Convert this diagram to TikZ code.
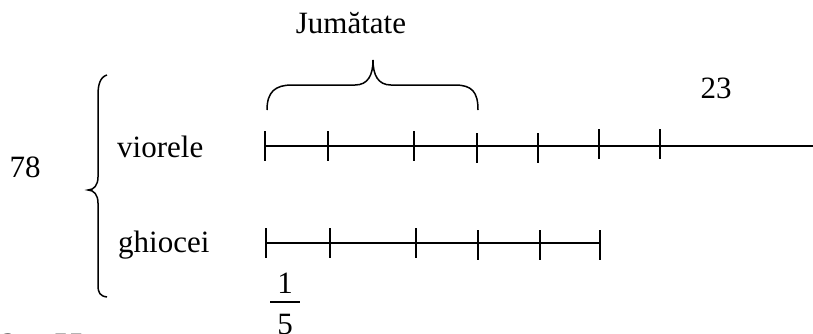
\documentclass[tikz,border=0pt]{standalone}
\usepackage{fontspec}
\setmainfont{Liberation Serif}
\usetikzlibrary{positioning}

\begin{document}
\begin{tikzpicture}[x=1pt,y=-1pt,every node/.style={font=\fontsize{31}{36}\selectfont,inner sep=0pt},seg/.style={line width=1.6pt,draw=black},brc/.style={line width=1.5pt,draw=black}]
\useasboundingbox (0,0) rectangle (813,333);
% labels
\node[anchor=base] (half) at (351,33) {Jumătate};
\node[anchor=base] (n23) at (716,98) {23};
\node[anchor=base] (n78) at (25,177) {78};
\node[anchor=base west] (vio) at (117,157) {viorele};
\node[anchor=base west] (ghi) at (118,252) {ghiocei};
\node[anchor=base] (one) at (285,293) {1};
\node[anchor=base] (five) at (285,334) {5};
\node[anchor=base west] (two) at (1,354) {2};
\node[anchor=base west] (res) at (53,354) {55};
\coordinate (barl) at (270,302);\coordinate (barr) at (300,302);
\draw[seg] (barl) -- (barr);
% viorele
\coordinate (v1) at (265,146);\coordinate (v2) at (328,146);\coordinate (v3) at (414,146);\coordinate (v4) at (477,146);
\coordinate (v5) at (538,146);\coordinate (v6) at (599,146);\coordinate (v7) at (660,146);\coordinate (vend) at (813,146);
\draw[seg] (v1) -- (vend);
\draw[seg] (v1) +(0,-15) -- +(0,15);\draw[seg] (v2) +(0,-15) -- +(0,15);\draw[seg] (v3) +(0,-15) -- +(0,15);\draw[seg] (v4) +(0,-13) -- +(0,17);
\draw[seg] (v5) +(0,-13) -- +(0,17);\draw[seg] (v6) +(0,-17) -- +(0,13);\draw[seg] (v7) +(0,-17) -- +(0,13);
% ghiocei
\coordinate (g1) at (266,243);\coordinate (g2) at (330,243);\coordinate (g3) at (416,243);\coordinate (g4) at (478,243);
\coordinate (g5) at (540,243);\coordinate (g6) at (600,243);
\draw[seg] (g1) -- (g6);
\draw[seg] (g1) +(0,-15) -- +(0,15);\draw[seg] (g2) +(0,-15) -- +(0,15);\draw[seg] (g3) +(0,-15) -- +(0,15);
\draw[seg] (g4) +(0,-13) -- +(0,17);\draw[seg] (g5) +(0,-13) -- +(0,17);\draw[seg] (g6) +(0,-13) -- +(0,17);
% braces
\draw[brc] (267,110) .. controls (267,92) and (275,85) .. (292,85) -- (355,85) .. controls (368,85) and (373,75) .. (373,60) .. controls (373,75) and (378,85) .. (391,85) -- (455,85) .. controls (472,85) and (478,92) .. (478,110);
\draw[brc] (107,75) .. controls (100,77) and (98,85) .. (98,95) -- (98,177) .. controls (98,185) and (94,190) .. (88,190) .. controls (94,190) and (98,195) .. (98,203) -- (98,285) .. controls (98,293) and (100,296) .. (107,297);
\end{tikzpicture}
\end{document}
